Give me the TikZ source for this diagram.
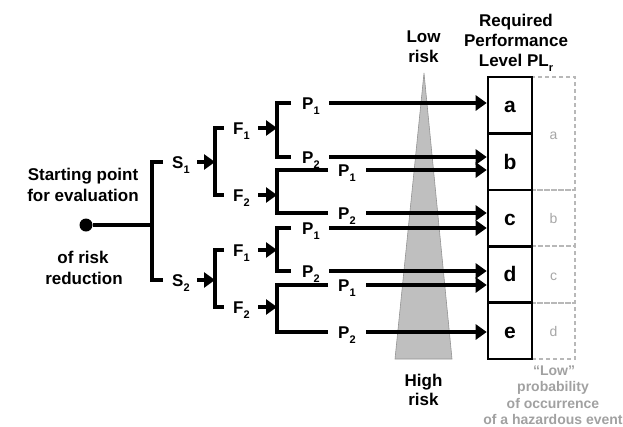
\documentclass[tikz,border=0pt]{standalone}
\usepackage{fontspec}
\setmainfont{Liberation Sans}
\usetikzlibrary{arrows.meta}
\newcommand\mysub[1]{\raisebox{-0.3em}{\fontsize{11}{11}\selectfont #1}}
\begin{document}
\begin{tikzpicture}[x=1pt,y=-1pt,
  lbl/.style={inner sep=0pt, anchor=base west, font=\fontsize{17}{20}\selectfont\bfseries},
  ctr/.style={inner sep=0pt, anchor=base, font=\fontsize{17}{20}\selectfont\bfseries},
  gtxt/.style={inner sep=0pt, anchor=base, text=black!37, font=\fontsize{14}{16}\selectfont\bfseries},
  tree/.style={line width=3.6pt},
  arr/.style={line width=3.6pt, -{Triangle[length=11pt,width=15pt]}},
  cell/.style={draw, line width=2.6pt, minimum width=44pt, minimum height=56.4pt, inner sep=0pt,
    text height=15pt, text depth=0pt, font=\fontsize{21}{21}\selectfont\bfseries},
  gcell/.style={draw=black!28, line width=1.1pt, dash pattern=on 4pt off 3pt, minimum width=43pt,
    inner sep=0pt, text height=11pt, text depth=0pt, text=black!35, font=\fontsize{14}{14}\selectfont},
  risk/.style={fill=black!25, draw=black!42, line width=0.6pt}
]
\useasboundingbox (0,0) rectangle (623,426);

% risk triangle
\path[risk] (424,73) -- (452,359) -- (395,359) -- cycle;

% dashed probability cells
\node[gcell, minimum height=113pt] (ga) at (553.5,133.5) {a};
\node[gcell, minimum height=56pt] (gb) at (553.5,218) {b};
\node[gcell, minimum height=57pt] (gc) at (553.5,274.5) {c};
\node[gcell, minimum height=56pt] (gd) at (553.5,331) {d};

% PL cells
\node[cell] (ca) at (510,105.2) {a};
\node[cell] (cb) at (510,161.6) {b};
\node[cell] (cc) at (510,218.0) {c};
\node[cell] (cd) at (510,274.4) {d};
\node[cell] (ce) at (510,330.8) {e};

% start point
\node[circle, fill, inner sep=0pt, minimum size=13pt] (start) at (86,225) {};
\coordinate (j0) at (152,225);
\coordinate (sT) at (163,162);
\coordinate (sB) at (163,280);
\draw[tree] (start) -- (j0);
\draw[tree] (sT) -| (j0) |- (sB);

% S labels and arrows
\node[lbl] (S1) at (172,168) {S\mysub{1}};
\node[lbl] (S2) at (172,286) {S\mysub{2}};
\coordinate (s1o) at (197,162); \coordinate (fA) at (215,162);
\coordinate (s2o) at (197,280); \coordinate (fB) at (215,280);
\draw[arr] (s1o) -- (fA);
\draw[arr] (s2o) -- (fB);

% F brackets
\coordinate (fAt) at (224,128); \coordinate (fAb) at (224,195);
\coordinate (fBt) at (224,250); \coordinate (fBb) at (224,307);
\draw[tree] (fAt) -| (fA) |- (fAb);
\draw[tree] (fBt) -| (fB) |- (fBb);

\node[lbl] (F1a) at (233,134) {F\mysub{1}};
\node[lbl] (F2a) at (233,201) {F\mysub{2}};
\node[lbl] (F1b) at (233,256) {F\mysub{1}};
\node[lbl] (F2b) at (233,313) {F\mysub{2}};

\coordinate (f1ao) at (258,128); \coordinate (pA) at (277,128);
\coordinate (f2ao) at (258,195); \coordinate (pB) at (277,195);
\coordinate (f1bo) at (258,250); \coordinate (pC) at (277,250);
\coordinate (f2bo) at (258,307); \coordinate (pD) at (277,307);
\draw[arr] (f1ao) -- (pA);
\draw[arr] (f2ao) -- (pB);
\draw[arr] (f1bo) -- (pC);
\draw[arr] (f2bo) -- (pD);

% P brackets
\coordinate (pAt) at (291,103); \coordinate (pAb) at (291,157);
\coordinate (pBt) at (328,170); \coordinate (pBb) at (328,213);
\coordinate (pCt) at (291,228); \coordinate (pCb) at (291,271);
\coordinate (pDt) at (328,285); \coordinate (pDb) at (328,332);
\draw[tree] (pAt) -| (pA) |- (pAb);
\draw[tree] (pBt) -| (pB) |- (pBb);
\draw[tree] (pCt) -| (pC) |- (pCb);
\draw[tree] (pDt) -| (pD) |- (pDb);

\node[lbl] (P1a) at (302,109) {P\mysub{1}};
\node[lbl] (P2a) at (302,163) {P\mysub{2}};
\node[lbl] (P1b) at (338,176) {P\mysub{1}};
\node[lbl] (P2b) at (338,219) {P\mysub{2}};
\node[lbl] (P1c) at (302,234) {P\mysub{1}};
\node[lbl] (P2c) at (302,277) {P\mysub{2}};
\node[lbl] (P1d) at (338,291) {P\mysub{1}};
\node[lbl] (P2d) at (338,338) {P\mysub{2}};

% arrows to PL cells
\coordinate (a1) at (329,103);
\coordinate (a2) at (329,157);
\coordinate (a3) at (366,170);
\coordinate (a4) at (366,213);
\coordinate (a5) at (329,228);
\coordinate (a6) at (329,271);
\coordinate (a7) at (366,285);
\coordinate (a8) at (366,332);
\draw[arr] (a1) -- (a1 -| ca.west);
\draw[arr] (a2) -- (a2 -| cb.west);
\draw[arr] (a3) -- (a3 -| cb.west);
\draw[arr] (a4) -- (a4 -| cc.west);
\draw[arr] (a5) -- (a5 -| cc.west);
\draw[arr] (a6) -- (a6 -| cd.west);
\draw[arr] (a7) -- (a7 -| cd.west);
\draw[arr] (a8) -- (a8 -| ce.west);

% texts
\node[ctr] (st1) at (83,180) {Starting point};
\node[ctr] (st2) at (83,201) {for evaluation};
\node[ctr] (st3) at (83,263) {of risk};
\node[ctr] (st4) at (84,284) {reduction};

\node[ctr] (lo1) at (423.5,42.7) {Low};
\node[ctr] (lo2) at (423.5,62.7) {risk};
\node[ctr] (hi1) at (423.5,386.7) {High};
\node[ctr] (hi2) at (423.5,405) {risk};

\node[ctr] (rq1) at (516,26.7) {Required};
\node[ctr] (rq2) at (516,46.7) {Performance};
\node[ctr] (rq3) at (516,66) {Level PL\mysub{r}};

\node[gtxt] (g1) at (554,375) {“Low”};
\node[gtxt] (g2) at (553,391.7) {probability};
\node[gtxt] (g3) at (553,408.3) {of occurrence};
\node[gtxt] (g4) at (553,424) {of a hazardous event};
\end{tikzpicture}
\end{document}
